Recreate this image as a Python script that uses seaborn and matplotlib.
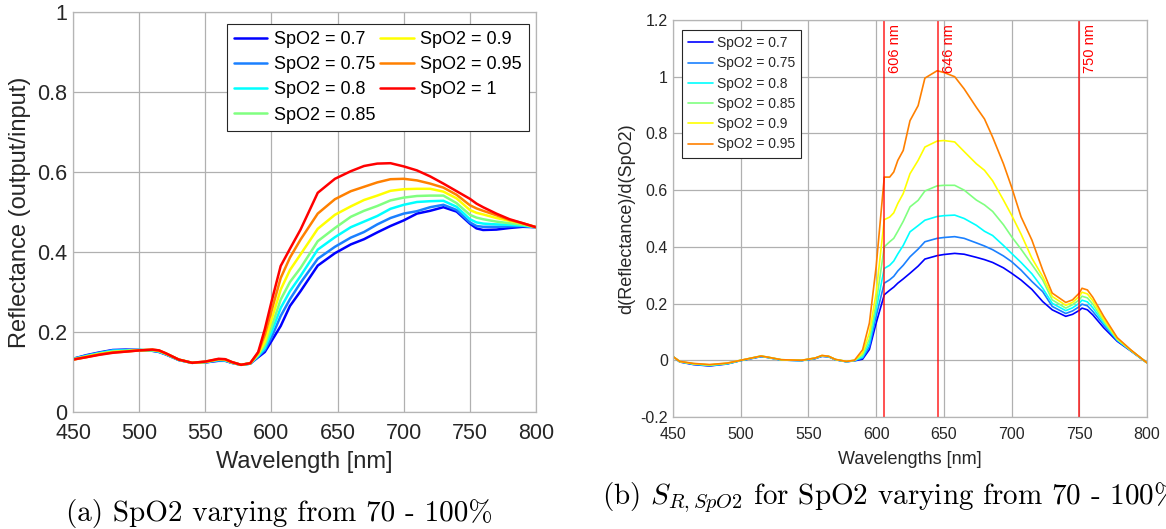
import matplotlib
matplotlib.use("Agg")
import matplotlib.pyplot as plt
from matplotlib.lines import Line2D
from matplotlib.ticker import FuncFormatter
import numpy as np
import pandas as pd
import seaborn as sns

sns.set_theme(style="white")
plt.rcParams["font.family"] = ["Liberation Sans", "DejaVu Sans"]
plt.rcParams["mathtext.fontset"] = "cm"

# ---------------------------------------------------------------- data (a)
wl_a = [450, 460, 470, 480, 490, 500, 510, 515, 520, 530, 540, 550, 560, 565,
        570, 577, 584, 590, 595, 600, 607, 614, 622, 635, 648, 660, 670, 680,
        690, 700, 710, 720, 730, 740, 750, 755, 760, 770, 780, 790, 800]

refl_070 = [0.133, 0.142, 0.149, 0.155, 0.156, 0.155, 0.153, 0.150, 0.144, 0.130,
            0.123, 0.124, 0.128, 0.128, 0.123, 0.118, 0.121, 0.137, 0.150, 0.177,
            0.215, 0.265, 0.302, 0.366, 0.397, 0.419, 0.432, 0.449, 0.465, 0.479,
            0.496, 0.503, 0.512, 0.501, 0.471, 0.459, 0.455, 0.456, 0.460, 0.463, 0.462]
refl_075 = [0.133, 0.141, 0.148, 0.154, 0.155, 0.155, 0.153, 0.151, 0.145, 0.130,
            0.123, 0.124, 0.129, 0.129, 0.123, 0.118, 0.121, 0.139, 0.155, 0.186,
            0.240, 0.282, 0.323, 0.383, 0.413, 0.436, 0.450, 0.469, 0.485, 0.496,
            0.502, 0.512, 0.518, 0.505, 0.474, 0.465, 0.463, 0.463, 0.464, 0.465, 0.462]
refl_080 = [0.132, 0.140, 0.147, 0.153, 0.154, 0.155, 0.154, 0.151, 0.145, 0.130,
            0.123, 0.125, 0.130, 0.129, 0.124, 0.118, 0.121, 0.141, 0.160, 0.199,
            0.260, 0.302, 0.340, 0.406, 0.437, 0.462, 0.476, 0.490, 0.508, 0.518,
            0.525, 0.527, 0.528, 0.513, 0.482, 0.474, 0.471, 0.469, 0.468, 0.466, 0.462]
refl_085 = [0.132, 0.139, 0.146, 0.151, 0.153, 0.155, 0.155, 0.152, 0.146, 0.131,
            0.123, 0.125, 0.131, 0.130, 0.124, 0.118, 0.121, 0.143, 0.168, 0.212,
            0.281, 0.325, 0.360, 0.427, 0.460, 0.488, 0.503, 0.515, 0.529, 0.536,
            0.540, 0.541, 0.541, 0.522, 0.493, 0.486, 0.482, 0.476, 0.472, 0.468, 0.462]
refl_090 = [0.131, 0.138, 0.145, 0.150, 0.152, 0.154, 0.155, 0.153, 0.146, 0.131,
            0.123, 0.125, 0.132, 0.131, 0.124, 0.118, 0.122, 0.145, 0.176, 0.230,
            0.306, 0.355, 0.394, 0.458, 0.493, 0.514, 0.530, 0.541, 0.553, 0.557,
            0.558, 0.558, 0.551, 0.534, 0.505, 0.498, 0.494, 0.485, 0.478, 0.471, 0.462]
refl_095 = [0.131, 0.137, 0.144, 0.149, 0.151, 0.154, 0.156, 0.154, 0.147, 0.131,
            0.123, 0.126, 0.132, 0.132, 0.125, 0.118, 0.122, 0.148, 0.193, 0.252,
            0.335, 0.386, 0.431, 0.496, 0.532, 0.552, 0.563, 0.574, 0.582, 0.583,
            0.579, 0.571, 0.561, 0.543, 0.517, 0.509, 0.503, 0.492, 0.480, 0.472, 0.462]
refl_100 = [0.131, 0.137, 0.143, 0.148, 0.151, 0.154, 0.156, 0.154, 0.147, 0.131,
            0.123, 0.126, 0.133, 0.132, 0.125, 0.118, 0.122, 0.150, 0.207, 0.275,
            0.365, 0.408, 0.456, 0.548, 0.583, 0.602, 0.615, 0.621, 0.622, 0.614,
            0.604, 0.589, 0.571, 0.552, 0.533, 0.521, 0.512, 0.496, 0.482, 0.472, 0.462]

labels_a = ["SpO2 = 0.7", "SpO2 = 0.75", "SpO2 = 0.8", "SpO2 = 0.85",
            "SpO2 = 0.9", "SpO2 = 0.95", "SpO2 = 1"]
series_a = [refl_070, refl_075, refl_080, refl_085, refl_090, refl_095, refl_100]

# ---------------------------------------------------------------- data (b)
wl_b = [450, 455, 465, 477, 490, 500, 510, 515, 520, 530, 545, 555, 560, 565,
        570, 578, 584, 590, 595, 600, 606, 610, 613, 616, 620, 625, 631, 636,
        645, 650, 658, 665, 674, 680, 686, 694, 700, 707, 715, 723, 730, 740,
        745, 750, 752, 756, 760, 768, 778, 788, 800]

sens_070 = [0.013, -0.006, -0.015, -0.020, -0.013, -0.001, 0.008, 0.013, 0.010, 0.001,
            -0.001, 0.006, 0.014, 0.012, 0.002, -0.005, -0.002, 0.004, 0.038, 0.131,
            0.231, 0.247, 0.258, 0.272, 0.287, 0.307, 0.332, 0.357, 0.369, 0.373,
            0.377, 0.374, 0.363, 0.355, 0.345, 0.326, 0.307, 0.283, 0.250, 0.207,
            0.178, 0.155, 0.162, 0.176, 0.184, 0.178, 0.160, 0.115, 0.067, 0.033, -0.009]
sens_075 = [0.013, -0.005, -0.014, -0.019, -0.012, -0.001, 0.009, 0.014, 0.010, 0.001,
            -0.001, 0.007, 0.015, 0.013, 0.002, -0.005, -0.001, 0.008, 0.048, 0.155,
            0.272, 0.284, 0.296, 0.315, 0.335, 0.365, 0.392, 0.418, 0.430, 0.433,
            0.436, 0.430, 0.414, 0.403, 0.390, 0.368, 0.348, 0.318, 0.278, 0.242,
            0.190, 0.165, 0.174, 0.189, 0.198, 0.192, 0.172, 0.125, 0.070, 0.034, -0.009]
sens_080 = [0.013, -0.005, -0.013, -0.018, -0.012, -0.001, 0.009, 0.014, 0.010, 0.001,
            -0.001, 0.007, 0.015, 0.013, 0.002, -0.005, -0.001, 0.012, 0.060, 0.178,
            0.324, 0.335, 0.350, 0.375, 0.405, 0.453, 0.475, 0.494, 0.507, 0.510,
            0.512, 0.500, 0.476, 0.455, 0.440, 0.405, 0.377, 0.345, 0.305, 0.254,
            0.201, 0.175, 0.185, 0.201, 0.212, 0.206, 0.185, 0.132, 0.072, 0.035, -0.009]
sens_085 = [0.013, -0.005, -0.012, -0.017, -0.011, 0.000, 0.010, 0.015, 0.011, 0.002,
            0.000, 0.008, 0.016, 0.013, 0.003, -0.004, 0.000, 0.018, 0.075, 0.200,
            0.400, 0.418, 0.430, 0.455, 0.490, 0.541, 0.564, 0.597, 0.615, 0.617,
            0.617, 0.600, 0.565, 0.548, 0.525, 0.478, 0.436, 0.392, 0.338, 0.283,
            0.213, 0.184, 0.196, 0.213, 0.226, 0.220, 0.198, 0.138, 0.074, 0.035, -0.009]
sens_090 = [0.013, -0.004, -0.012, -0.016, -0.010, 0.000, 0.010, 0.015, 0.011, 0.002,
            0.000, 0.008, 0.017, 0.014, 0.003, -0.004, 0.000, 0.026, 0.096, 0.237,
            0.496, 0.505, 0.520, 0.553, 0.588, 0.658, 0.705, 0.752, 0.773, 0.775,
            0.770, 0.736, 0.693, 0.670, 0.633, 0.565, 0.512, 0.445, 0.360, 0.295,
            0.225, 0.194, 0.204, 0.225, 0.240, 0.234, 0.210, 0.145, 0.077, 0.036, -0.009]
sens_095 = [0.013, -0.004, -0.011, -0.015, -0.010, 0.000, 0.010, 0.015, 0.011, 0.002,
            0.000, 0.008, 0.017, 0.014, 0.003, -0.004, 0.000, 0.037, 0.131, 0.330,
            0.646, 0.646, 0.664, 0.705, 0.740, 0.845, 0.898, 0.995, 1.021, 1.015,
            1.000, 0.957, 0.892, 0.851, 0.787, 0.693, 0.611, 0.506, 0.424, 0.318,
            0.237, 0.204, 0.213, 0.237, 0.254, 0.248, 0.222, 0.155, 0.080, 0.037, -0.009]

labels_b = labels_a[:6]
series_b = [sens_070, sens_075, sens_080, sens_085, sens_090, sens_095]

marker_wl = [606, 646, 750]
marker_txt = ["606 nm", "646 nm", "750 nm"]

colors = ["#0000ff", "#1a80ff", "#00ffff", "#80ff80", "#ffff00", "#ff8000", "#ff0000"]

xticks = [450, 500, 550, 600, 650, 700, 750, 800]
yticks_a = [0, 0.2, 0.4, 0.6, 0.8, 1]
yticks_b = [-0.2, 0, 0.2, 0.4, 0.6, 0.8, 1, 1.2]

# ---------------------------------------------------------------- frames
df_a = pd.concat([pd.DataFrame({"Wavelength": wl_a, "Value": v, "SpO2": k})
                  for k, v in zip(labels_a, series_a)], ignore_index=True)
df_b = pd.concat([pd.DataFrame({"Wavelength": wl_b, "Value": v, "SpO2": k})
                  for k, v in zip(labels_b, series_b)], ignore_index=True)

fig = plt.figure(figsize=(11.66, 5.29), dpi=100)
ax1 = fig.add_axes([73 / 1166, 1 - 412 / 529, 463 / 1166, 400 / 529])
ax2 = fig.add_axes([673 / 1166, 1 - 417 / 529, 474 / 1166, 397 / 529])

fmt = FuncFormatter(lambda v, p: "%g" % v)
grid_kw = dict(color="#b0b0b0", linewidth=0.9)
text_col = "#262626"


def style_axes(ax, yticks, tick_size, xpad, ypad):
    ax.set_xlim(450, 800)
    ax.set_xticks(xticks)
    ax.set_yticks(yticks)
    ax.set_ylim(yticks[0], yticks[-1])
    ax.xaxis.set_major_formatter(fmt)
    ax.yaxis.set_major_formatter(fmt)
    ax.grid(True, **grid_kw)
    ax.set_axisbelow(True)
    for s in ax.spines.values():
        s.set_color("#b5b5b5")
        s.set_linewidth(0.9)
    ax.tick_params(axis="x", length=0, pad=xpad, labelsize=tick_size, colors=text_col)
    ax.tick_params(axis="y", length=0, pad=ypad, labelsize=tick_size, colors=text_col)


# ---------------------------------------------------------------- panel (a)
sns.lineplot(data=df_a, x="Wavelength", y="Value", hue="SpO2", hue_order=labels_a,
             palette=colors, estimator=None, sort=False, linewidth=1.8,
             legend=False, ax=ax1)
style_axes(ax1, yticks_a, 15.5, 8, 4.3)
ax1.set_xlabel("Wavelength [nm]", fontsize=17, color=text_col, labelpad=5)
ax1.set_ylabel("Reflectance (output/input)", fontsize=17, color=text_col)
handles_a = [Line2D([], [], color=c, lw=1.8) for c in colors]
leg1 = ax1.legend(handles_a, labels_a, ncol=2, loc="upper right",
                  bbox_to_anchor=(0.985, 0.97), fontsize=13, frameon=True,
                  fancybox=False, framealpha=1, edgecolor="#262626",
                  labelspacing=0.45, columnspacing=0.3, handlelength=1.85,
                  handletextpad=0.35, borderpad=0.4, borderaxespad=0)
leg1.get_frame().set_linewidth(0.8)
for t in leg1.get_texts():
    t.set_color("#000000")

# ---------------------------------------------------------------- panel (b)
sns.lineplot(data=df_b, x="Wavelength", y="Value", hue="SpO2", hue_order=labels_b,
             palette=colors[:6], estimator=None, sort=False, linewidth=1.2,
             legend=False, ax=ax2)
style_axes(ax2, yticks_b, 11.5, 7.5, 3.6)
ax2.set_xlabel("Wavelengths [nm]", fontsize=13, color=text_col, labelpad=6)
ax2.set_ylabel("d(Reflectance)/d(SpO2)", fontsize=13, color=text_col)
for x, t in zip(marker_wl, marker_txt):
    ax2.axvline(x, color="#ff0000", lw=1.2, alpha=0.8)
    ax2.annotate(t, xy=(x, 1), xycoords=("data", "axes fraction"),
                 xytext=(2.5, -3), textcoords="offset points", rotation=90,
                 ha="left", va="top", color="#ff0000", fontsize=10.5)
handles_b = [Line2D([], [], color=c, lw=1.2) for c in colors[:6]]
leg2 = ax2.legend(handles_b, labels_b, loc="upper left",
                  bbox_to_anchor=(0.019, 0.975), fontsize=10, frameon=True,
                  fancybox=False, framealpha=1, edgecolor="#262626",
                  labelspacing=0.45, handlelength=1.8, handletextpad=0.25,
                  borderpad=0.45, borderaxespad=0)
leg2.get_frame().set_linewidth(0.8)

# ---------------------------------------------------------------- captions
fig.text(279 / 1166, 1 - 513 / 529, "(a) SpO2 varying from 70 - 100%",
         ha="center", va="center", fontsize=21, family="cmr10", color="black")
fig.text(602 / 1166, 1 - 498 / 529,
         "(b) $S_{R,SpO2}$ for SpO2 varying from 70 - 100%",
         ha="left", va="center", fontsize=21, family="cmr10", color="black")

fig.savefig("out.png", dpi=100)
